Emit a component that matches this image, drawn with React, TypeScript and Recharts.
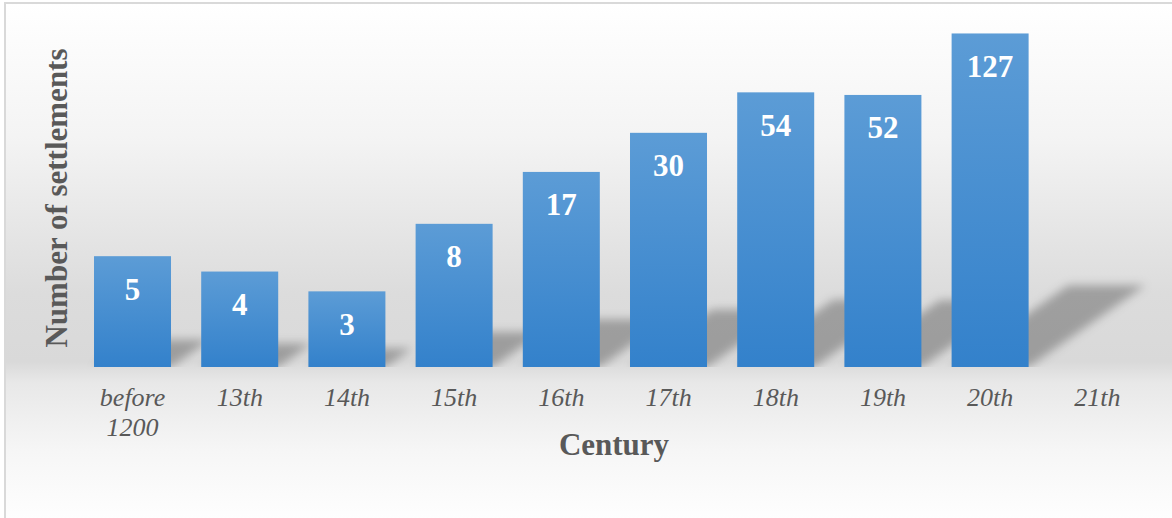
import { BarChart, Bar, XAxis, YAxis, LabelList } from "recharts";

const centuries = ["before 1200", "13th", "14th", "15th", "16th", "17th", "18th", "19th", "20th", "21th"];
const settlements: (number | null)[] = [5, 4, 3, 8, 17, 30, 54, 52, 127, null];

const data = centuries.map((century, i) => ({ century, count: settlements[i] }));

const SERIF = '"Liberation Serif", "Times New Roman", serif';
const GREY_TEXT = "#595959";

// bar + the skewed floor shadow it throws to the right
function ShadowBar(props: any) {
  const { x, y, width, height } = props;
  if (!height || height <= 0) return null;
  const base = y + height;
  const dx = height * 0.35;
  const dy = height * 0.245;
  const pts = `${x},${base} ${x + width},${base} ${x + width + dx},${base - dy} ${x + dx},${base - dy}`;
  return (
    <g>
      <polygon points={pts} fill="#000" fillOpacity={0.28} filter="url(#shadowBlur)" />
      <rect x={x} y={y} width={width} height={height} fill="url(#barFill)" />
    </g>
  );
}

function CenturyTick(props: any) {
  const { x, y, payload } = props;
  const lines = String(payload.value).split(" ");
  return (
    <text
      x={x}
      y={y}
      textAnchor="middle"
      fill={GREY_TEXT}
      fontFamily={SERIF}
      fontStyle="italic"
      fontSize={26}
    >
      {lines.map((l, i) => (
        <tspan key={i} x={x} dy={i === 0 ? 37 : 30}>
          {l}
        </tspan>
      ))}
    </text>
  );
}

function ValueLabel(props: any) {
  const { x, y, width, value } = props;
  if (value == null) return null;
  return (
    <text
      x={x + width / 2}
      y={y + 33}
      textAnchor="middle"
      dominantBaseline="central"
      fill="#ffffff"
      fontFamily={SERIF}
      fontWeight="bold"
      fontSize={31}
    >
      {value}
    </text>
  );
}

export default function App() {
  return (
    <div
      style={{
        position: "absolute",
        left: 0,
        top: 0,
        width: 1172,
        height: 518,
        overflow: "hidden",
        background: "#ffffff",
      }}
    >
      <div
        style={{
          position: "absolute",
          left: 4,
          top: 2,
          width: 1180,
          height: 530,
          border: "2px solid #d9d9d9",
          boxSizing: "border-box",
          background:
            "linear-gradient(to bottom, #ffffff 0%, #f4f4f4 25%, #dcdcdc 55%, #d9d9d9 68%, #e8e8e8 72%, #f6f6f6 85%, #ffffff 100%)",
        }}
      />
      <div style={{ position: "absolute", left: 0, top: 0 }}>
        <BarChart
          width={1172}
          height={518}
          data={data}
          margin={{ top: 22, right: 21, left: 79, bottom: 91 }}
          barCategoryGap="14%"
        >
          <defs>
            <linearGradient id="barFill" x1="0" y1="0" x2="0" y2="1">
              <stop offset="0%" stopColor="#5c9cd6" />
              <stop offset="100%" stopColor="#3381cb" />
            </linearGradient>
            <filter id="shadowBlur" x="-50%" y="-50%" width="200%" height="200%">
              <feGaussianBlur stdDeviation="5" />
            </filter>
          </defs>
          <XAxis
            dataKey="century"
            height={60}
            axisLine={false}
            tickLine={false}
            tickSize={0}
            interval={0}
            tick={<CenturyTick />}
          />
          <YAxis hide scale="log" domain={[1, 150]} allowDataOverflow />
          <Bar dataKey="count" shape={<ShadowBar />} isAnimationActive={false}>
            <LabelList dataKey="count" content={<ValueLabel />} />
          </Bar>
        </BarChart>
      </div>
      <div
        style={{
          position: "absolute",
          left: 57,
          top: 198,
          transform: "translate(-50%, -50%) rotate(-90deg)",
          whiteSpace: "nowrap",
          fontFamily: SERIF,
          fontWeight: "bold",
          fontSize: 31,
          color: GREY_TEXT,
        }}
      >
        Number of settlements
      </div>
      <div
        style={{
          position: "absolute",
          left: 614,
          top: 445,
          transform: "translate(-50%, -50%)",
          whiteSpace: "nowrap",
          fontFamily: SERIF,
          fontWeight: "bold",
          fontSize: 31,
          color: GREY_TEXT,
        }}
      >
        Century
      </div>
    </div>
  );
}
